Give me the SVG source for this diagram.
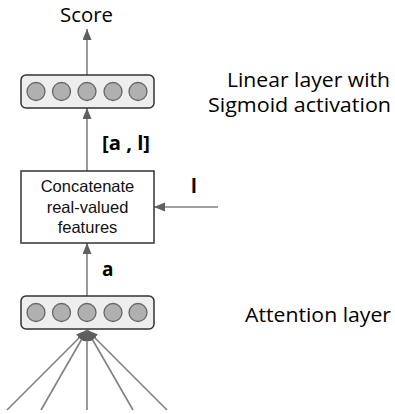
<svg xmlns="http://www.w3.org/2000/svg" width="395" height="414" viewBox="0 0 395 414">
<defs>
<marker id="ah" markerUnits="userSpaceOnUse" markerWidth="12" markerHeight="10" refX="11" refY="4.5" orient="auto">
<path d="M0,0 L11,4.5 L0,9 z" fill="#5f5f5f"/>
</marker>
</defs>
<style>
.layer{fill:#eeeeee;stroke:#333333;stroke-width:1.5}
.unit{fill:#b0b0b0;stroke:#666666;stroke-width:1.3}
.conn{stroke:#808080;stroke-width:1.6;fill:none;marker-end:url(#ah)}
.lbl{font-family:"Open Sans",Lato,sans-serif;font-size:20px;fill:#000000}
.bold{font-family:"Open Sans",Lato,sans-serif;font-weight:bold;font-size:19px;fill:#000000}
.box{font-family:"Liberation Sans",Arial,sans-serif;font-size:16.5px;fill:#111111;text-anchor:middle}
</style>
<g id="connectors">
<line class="conn" x1="87" y1="75" x2="87" y2="29"/>
<line class="conn" x1="87" y1="171" x2="87" y2="108"/>
<line class="conn" x1="218" y1="207" x2="154" y2="207"/>
<line class="conn" x1="87" y1="296" x2="87" y2="243"/>
<line class="conn" x1="7" y1="410" x2="87" y2="330"/>
<line class="conn" x1="41" y1="410" x2="87" y2="330"/>
<line class="conn" x1="87" y1="410" x2="87" y2="330"/>
<line class="conn" x1="133" y1="410" x2="87" y2="330"/>
<line class="conn" x1="167" y1="410" x2="87" y2="330"/>
</g>
<g id="score">
<text class="lbl" x="60" y="22" textLength="53" lengthAdjust="spacingAndGlyphs">Score</text>
</g>
<g id="linear-layer">
<rect class="layer" x="21" y="75" width="133" height="33" rx="5"/>
<circle class="unit" cx="36" cy="91.5" r="9"/>
<circle class="unit" cx="61.5" cy="91.5" r="9"/>
<circle class="unit" cx="87" cy="91.5" r="9"/>
<circle class="unit" cx="113" cy="91.5" r="9"/>
<circle class="unit" cx="138" cy="91.5" r="9"/>
</g>
<g id="linear-label">
<text class="lbl" x="227" y="87" textLength="163" lengthAdjust="spacingAndGlyphs">Linear layer with</text>
<text class="lbl" x="208" y="112" textLength="183" lengthAdjust="spacingAndGlyphs">Sigmoid activation</text>
</g>
<g id="al-label">
<text class="bold" x="102" y="150" textLength="48" lengthAdjust="spacingAndGlyphs">[a , l]</text>
</g>
<g id="concat">
<rect x="21" y="171" width="133" height="72" fill="#ffffff" stroke="#333333" stroke-width="1.5"/>
<text class="box" x="87.5" y="192">Concatenate</text>
<text class="box" x="87.5" y="213">real-valued</text>
<text class="box" x="87.5" y="233">features</text>
</g>
<g id="l-label">
<text class="bold" x="191" y="193">l</text>
</g>
<g id="a-label">
<text class="bold" x="102" y="276">a</text>
</g>
<g id="attention-layer">
<rect class="layer" x="21" y="296" width="133" height="33" rx="5"/>
<circle class="unit" cx="36" cy="312.5" r="9"/>
<circle class="unit" cx="61.5" cy="312.5" r="9"/>
<circle class="unit" cx="87" cy="312.5" r="9"/>
<circle class="unit" cx="113" cy="312.5" r="9"/>
<circle class="unit" cx="138" cy="312.5" r="9"/>
</g>
<g id="attention-label">
<text class="lbl" x="245" y="322" textLength="146" lengthAdjust="spacingAndGlyphs">Attention layer</text>
</g>
</svg>
